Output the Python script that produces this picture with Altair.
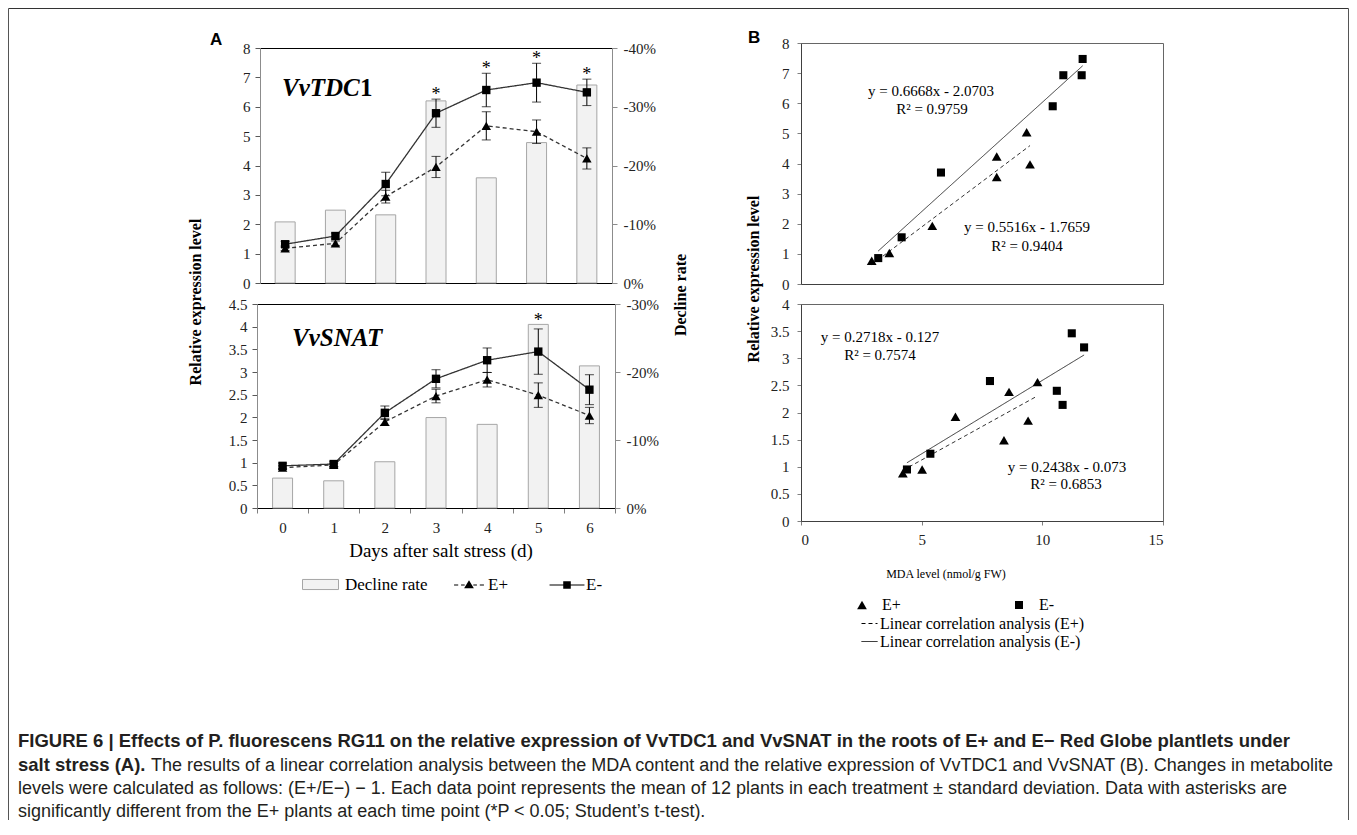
import altair as alt
import pandas as pd

# ---------------- data ----------------
days = [0, 1, 2, 3, 4, 5, 6]

# Panel A, VvTDC1
tdc_decline = [-0.104, -0.124, -0.116, -0.310, -0.179, -0.239, -0.337]
tdc_em_mean = [1.32, 1.60, 3.37, 5.78, 6.57, 6.82, 6.49]
tdc_em_sd = [0.10, 0.10, 0.40, 0.48, 0.57, 0.66, 0.45]
tdc_ep_mean = [1.18, 1.35, 2.94, 3.95, 5.35, 5.15, 4.24]
tdc_ep_sd = [0.08, 0.08, 0.22, 0.36, 0.48, 0.40, 0.36]
tdc_sig_days = [3, 4, 5, 6]

# Panel A, VvSNAT
snat_decline = [-0.044, -0.040, -0.068, -0.133, -0.123, -0.270, -0.209]
snat_em_mean = [0.93, 0.97, 2.10, 2.85, 3.26, 3.45, 2.61]
snat_em_sd = [0.06, 0.06, 0.15, 0.20, 0.27, 0.50, 0.33]
snat_ep_mean = [0.89, 0.95, 1.90, 2.47, 2.83, 2.49, 2.04]
snat_ep_sd = [0.04, 0.04, 0.08, 0.15, 0.16, 0.27, 0.18]
snat_sig_days = [5]

# Panel B (MDA level vs relative expression)
tdc_mda_ep = [2.93, 3.66, 5.44, 8.11, 8.11, 9.35, 9.49]
tdc_expr_ep = [0.77, 1.03, 1.93, 4.23, 3.55, 5.04, 3.97]
tdc_mda_em = [3.20, 4.17, 5.80, 10.43, 10.87, 11.63, 11.67]
tdc_expr_em = [0.86, 1.55, 3.70, 5.90, 6.93, 6.93, 7.47]
snat_mda_ep = [4.22, 5.02, 6.40, 8.41, 8.62, 9.41, 9.80]
snat_expr_ep = [0.88, 0.95, 1.92, 1.49, 2.38, 1.85, 2.56]
snat_mda_em = [4.39, 5.36, 7.83, 10.60, 10.84, 11.22, 11.73]
snat_expr_em = [0.95, 1.24, 2.58, 2.40, 2.14, 3.46, 3.20]

tdc_eq_em = ["y = 0.6668x - 2.0703", "R² = 0.9759"]
tdc_eq_ep = ["y = 0.5516x - 1.7659", "R² = 0.9404"]
snat_eq_em = ["y = 0.2718x - 0.127", "R² = 0.7574"]
snat_eq_ep = ["y = 0.2438x - 0.073", "R² = 0.6853"]

series_names = ["E+", "E-"]
bar_label = ["Decline rate"]
fit_names = ["Linear correlation analysis (E+)", "Linear correlation analysis (E-)"]

caption_lines = [
    "FIGURE 6 | Effects of P. fluorescens RG11 on the relative expression of VvTDC1 and VvSNAT in the roots of E+ and E\u2212 Red Globe plantlets under",
    "The results of a linear correlation analysis between the MDA content and the relative expression of VvTDC1 and VvSNAT (B). Changes in metabolite",
    "levels were calculated as follows: (E+/E\u2212) \u2212 1. Each data point represents the mean of 12 plants in each treatment \u00b1 standard deviation. Data with asterisks are",
    "significantly different from the E+ plants at each time point (*P < 0.05; Student\u2019s t-test).",
]
caption_bold_start = "salt stress (A)."

# ---------------- styling ----------------
SERIF = "Liberation Serif"
SANS = "Liberation Sans"
ONE = pd.DataFrame({"k": [0]})


def seg(a, b, t=0.03):
    return f"M{a},{-t}L{b},{-t}L{b},{t}L{a},{t}Z"


BOX_PATH = "M-1,-0.28L1,-0.28L1,0.28L-1,0.28Z"
EP_PATH = (seg(-0.83, -0.6) + seg(-0.44, -0.24) + seg(0.24, 0.44) + seg(0.6, 0.83)
           + "M0,-0.26L0.27,0.18L-0.27,0.18Z")
EM_PATH = seg(-0.97, 0.97) + "M-0.21,-0.21L0.21,-0.21L0.21,0.21L-0.21,0.21Z"


def label(text, x, y, size, font=SERIF, weight="normal", style="normal",
          align="left", baseline="alphabetic", angle=0, color="black"):
    return alt.Chart(ONE).mark_text(
        text=text, font=font, fontSize=size, fontWeight=weight, fontStyle=style,
        align=align, baseline=baseline, angle=angle, color=color
    ).encode(x=alt.value(x), y=alt.value(y))


def hrule(x1, x2, y, color="#555"):
    return alt.Chart(ONE).mark_rule(color=color, strokeWidth=1).encode(
        x=alt.value(x1), x2=alt.value(x2), y=alt.value(y))


def vrule(x, y1, y2, color="#555"):
    return alt.Chart(ONE).mark_rule(color=color, strokeWidth=1).encode(
        x=alt.value(x), y=alt.value(y1), y2=alt.value(y2))


def panel_a(decline, em_mean, em_sd, ep_mean, ep_sd, sig_days, y_max, y_step,
            r_min, w, h, inset_x, inset_top, show_x, annotations, star_dy,
            bar_legend=None, line_legend=None):
    dec_df = pd.DataFrame({"day": days, "decline": decline})
    df = pd.concat([
        pd.DataFrame({"day": days, "series": "E-", "mean": em_mean, "sd": em_sd}),
        pd.DataFrame({"day": days, "series": "E+", "mean": ep_mean, "sd": ep_sd}),
    ], ignore_index=True)

    xs = alt.Scale(type="band", domain=days, paddingInner=0, paddingOuter=0,
                   range=[inset_x, w - inset_x])
    bottom_axis = alt.Axis(
        orient="bottom", title=None, grid=False, domainColor="black",
        labels=show_x, ticks=show_x, tickBand="extent", tickSize=5,
        tickColor="#7f7f7f", labelAngle=0, labelFont=SERIF, labelFontSize=15,
        labelColor="#222", labelPadding=7)
    top_axis = alt.Axis(orient="top", title=None, grid=False, labels=False,
                        ticks=False, domainColor="black", offset=-inset_top)
    n = int(round(y_max / y_step))
    y_vals = [round(i * y_step, 2) for i in range(n + 1)]
    left_axis = alt.Axis(
        orient="left", title=None, grid=False, values=y_vals, format="~g",
        tickSize=5, tickColor="#595959", domainColor="#8c8c8c", offset=-inset_x,
        labelFont=SERIF, labelFontSize=15, labelColor="#222", labelPadding=5)
    m = int(round(-r_min / 0.1))
    r_vals = [round(-0.1 * i, 2) for i in range(m + 1)]
    right_axis = alt.Axis(
        orient="right", title=None, grid=False, values=r_vals, offset=-inset_x,
        labelExpr="(datum.value < 0 ? '-' : '') + format(abs(datum.value), '.0%')",
        tickSize=5, tickColor="#8c8c8c", domainColor="#8c8c8c",
        labelFont=SERIF, labelFontSize=15, labelColor="#222", labelPadding=6)

    bars = alt.Chart(dec_df).transform_calculate(
        lbl="'" + bar_label[0] + "'"
    ).mark_bar(size=20, stroke="#a6a6a6", strokeWidth=1).encode(
        x=alt.X("day:O", scale=xs, axis=bottom_axis),
        y=alt.Y("decline:Q",
                scale=alt.Scale(domain=[r_min, 0], reverse=True, nice=False,
                                range=[h, inset_top]),
                axis=right_axis),
        fill=alt.Fill("lbl:N", scale=alt.Scale(domain=bar_label, range=["#f2f2f2"]),
                      legend=bar_legend),
    )

    X = alt.X("day:O", scale=xs, axis=top_axis)
    ys = alt.Scale(domain=[0, y_max], nice=False, range=[h, inset_top])
    base = alt.Chart(df).transform_calculate(
        lo="datum.mean - datum.sd", hi="datum.mean + datum.sd")
    dash = alt.StrokeDash("series:N", scale=alt.Scale(domain=series_names,
                                                      range=[[4, 3], [1, 0]]),
                          legend=None)
    lines = base.mark_line(color="#333", strokeWidth=1.3).encode(
        x=X, y=alt.Y("mean:Q", scale=ys, axis=left_axis), strokeDash=dash)
    rules = base.mark_rule(color="black", strokeWidth=1).encode(
        x=X, y=alt.Y("lo:Q", scale=ys, axis=left_axis), y2="hi:Q")
    cap_lo = base.mark_tick(color="black", size=9, thickness=1).encode(
        x=X, y=alt.Y("lo:Q", scale=ys, axis=left_axis))
    cap_hi = base.mark_tick(color="black", size=9, thickness=1).encode(
        x=X, y=alt.Y("hi:Q", scale=ys, axis=left_axis))
    pts = base.mark_point(filled=True, opacity=1, color="black").encode(
        x=X, y=alt.Y("mean:Q", scale=ys, axis=left_axis),
        shape=alt.Shape("series:N", scale=alt.Scale(domain=series_names,
                                                    range=["triangle-up", "square"]),
                        legend=None),
        size=alt.Size("series:N", scale=alt.Scale(domain=series_names, range=[90, 70]),
                      legend=None),
    )
    stars = base.transform_filter(
        alt.FieldEqualPredicate(field="series", equal="E-")
    ).transform_filter(
        alt.FieldOneOfPredicate(field="day", oneOf=sig_days)
    ).mark_text(text="*", font=SERIF, fontSize=18, dy=star_dy,
                baseline="alphabetic", color="black").encode(
        x=X, y=alt.Y("hi:Q", scale=ys, axis=left_axis))

    layers = [lines, rules, cap_lo, cap_hi, pts, stars]
    if line_legend is not None:
        carrier = alt.Chart(pd.DataFrame({"s": series_names})).transform_filter(
            "false").mark_point(filled=True, opacity=1, color="black").encode(
            shape=alt.Shape("s:N", scale=alt.Scale(domain=series_names,
                                                   range=[EP_PATH, EM_PATH]),
                            legend=line_legend))
        layers.append(carrier)
    inner = alt.layer(*layers, *annotations).resolve_scale(shape="independent")
    return alt.layer(bars, inner).resolve_scale(
        y="independent", shape="independent", fill="independent",
        stroke="independent", strokeDash="independent", size="independent"
    ).resolve_axis(x="independent", y="independent").properties(width=w, height=h)


def panel_b(mda_ep, expr_ep, mda_em, expr_em, y_max, y_step, w, h, show_x,
            annotations, shape_legend, dash_legend):
    df = pd.concat([
        pd.DataFrame({"series": "E+", "mda": mda_ep, "expr": expr_ep}),
        pd.DataFrame({"series": "E-", "mda": mda_em, "expr": expr_em}),
    ], ignore_index=True)
    xs = alt.Scale(domain=[0, 15], nice=False)
    x_axis = alt.Axis(
        orient="bottom", title=None, grid=False, values=[0, 5, 10, 15],
        labels=show_x, ticks=show_x, tickSize=4, tickColor="#808080",
        domainColor="#404040", labelFont=SERIF, labelFontSize=15,
        labelColor="#222", labelPadding=7)
    n = int(round(y_max / y_step))
    y_vals = [round(i * y_step, 2) for i in range(n + 1)]
    y_axis = alt.Axis(
        orient="left", title=None, grid=False, values=y_vals, format="~g",
        tickSize=4, tickColor="#808080", domainColor="#404040",
        labelFont=SERIF, labelFontSize=15, labelColor="#222", labelPadding=8)
    X = alt.X("mda:Q", scale=xs, axis=x_axis)
    Y = alt.Y("expr:Q", scale=alt.Scale(domain=[0, y_max], nice=False), axis=y_axis)

    reg = alt.Chart(df).transform_calculate(
        fit="'Linear correlation analysis (' + datum.series + ')'"
    ).transform_regression("mda", "expr", groupby=["fit"]).mark_line(
        color="#333", strokeWidth=1
    ).encode(
        x=X, y=Y,
        strokeDash=alt.StrokeDash("fit:N", scale=alt.Scale(domain=fit_names,
                                                           range=[[4, 3], [1, 0]]),
                                  legend=dash_legend),
    )
    pts = alt.Chart(df).mark_point(filled=True, opacity=1, color="black").encode(
        x=X, y=Y,
        shape=alt.Shape("series:N", scale=alt.Scale(domain=series_names,
                                                    range=["triangle-up", "square"]),
                        legend=shape_legend),
        size=alt.Size("series:N", scale=alt.Scale(domain=series_names, range=[95, 65]),
                      legend=shape_legend),
    )
    return alt.layer(reg, pts, *annotations).properties(
        width=w, height=h, view=alt.ViewBackground(stroke="#666", strokeWidth=1))


# ---------------- panel A (top origin = page 257,43) ----------------
a_top_ann = [
    label("A", -47, 2, 17, font=SANS, weight="bold"),
    label("Relative expression level", -61, 259, 16, weight="bold",
          align="center", baseline="middle", angle=270),
    label("Decline rate", 424, 252, 16, weight="bold", align="center",
          baseline="middle", angle=270),
    label("VvTDC", 25, 53, 25, weight="bold", style="italic"),
    label("1", 103, 53, 25, weight="bold"),
]
A_top = panel_a(tdc_decline, tdc_em_mean, tdc_em_sd, tdc_ep_mean, tdc_ep_sd,
                tdc_sig_days, 8, 1, -0.4, 358, 240, 3, 5, False, a_top_ann, 1)

leg_bar = alt.Legend(orient="none", legendX=45, legendY=262, direction="horizontal",
                     title=None, symbolType=BOX_PATH, symbolSize=1296,
                     symbolStrokeColor="#a6a6a6", symbolStrokeWidth=1,
                     labelFont=SERIF, labelFontSize=17, labelColor="black",
                     labelOffset=6, labelLimit=300)
leg_lines = alt.Legend(orient="none", legendX=193, legendY=262, direction="horizontal",
                       title=None, symbolSize=1296, symbolFillColor="black",
                       labelFont=SERIF, labelFontSize=17, labelColor="black",
                       labelOffset=0, columnPadding=38, labelLimit=300)

# A_bot origin = page (257, 304)
CX = 18 - 257
a_bot_ann = [
    label("VvSNAT", 35, 42, 25, weight="bold", style="italic"),
    label("Days after salt stress (d)", 184, 253, 19, align="center"),
    # figure frame
    hrule(-248.5, 1091.5, -295.5, color="#333"),
    vrule(-248.5, -295.5, 516),
    vrule(1091.5, -295.5, 516),
    # caption
    label(caption_lines[0], CX, 443, 18.5, font=SANS, weight="bold", color="#231f20"),
    label(caption_bold_start, CX, 467, 18.5, font=SANS, weight="bold", color="#231f20"),
    label(caption_lines[1], CX + 133, 467, 18, font=SANS, color="#231f20"),
    label(caption_lines[2], CX, 490, 18, font=SANS, color="#231f20"),
    label(caption_lines[3], CX, 513, 18, font=SANS, color="#231f20"),
]
A_bot = panel_a(snat_decline, snat_em_mean, snat_em_sd, snat_ep_mean, snat_ep_sd,
                snat_sig_days, 4.5, 0.5, -0.3, 358, 204, 0, 0, True, a_bot_ann, -3,
                bar_legend=leg_bar, line_legend=leg_lines)

# ---------------- panel B (top origin = page 801,43) ----------------
b_top_ann = [
    label("B", -53, 0, 17, font=SANS, weight="bold"),
    label("Relative expression level", -47, 236, 16, weight="bold",
          align="center", baseline="middle", angle=270),
    label(tdc_eq_em[0], 130, 53, 15, align="center"),
    label(tdc_eq_em[1], 131, 71, 15, align="center"),
    label(tdc_eq_ep[0], 226, 189, 15, align="center"),
    label(tdc_eq_ep[1], 226, 208, 15, align="center"),
]
B_top = panel_b(tdc_mda_ep, tdc_expr_ep, tdc_mda_em, tdc_expr_em, 8, 1, 362, 241,
                False, b_top_ann, None, None)

b_bot_ann = [
    label(snat_eq_em[0], 79, 38, 15, align="center"),
    label(snat_eq_em[1], 79, 56, 15, align="center"),
    label(snat_eq_ep[0], 266, 168, 15, align="center"),
    label(snat_eq_ep[1], 265, 185, 15, align="center"),
    label("MDA level (nmol/g FW)", 145, 274, 12, align="center"),
]
shape_leg = alt.Legend(orient="none", legendX=53, legendY=293, direction="horizontal",
                       title=None, symbolFillColor="black",
                       labelFont=SERIF, labelFontSize=16,
                       labelColor="black", labelOffset=12, columnPadding=110)
dash_leg = alt.Legend(orient="none", legendX=60, legendY=311, direction="vertical",
                      title=None, symbolType="stroke", symbolSize=256,
                      symbolStrokeColor="black", symbolStrokeWidth=1,
                      labelFont=SERIF, labelFontSize=16, labelColor="black",
                      labelOffset=2, rowPadding=1, labelLimit=400)
B_bot = panel_b(snat_mda_ep, snat_expr_ep, snat_mda_em, snat_expr_em, 4, 0.5, 362, 217,
                True, b_bot_ann, shape_leg, dash_leg)

# ---------------- layout (2x2 grid, flush bounds) ----------------
RS = dict(x="independent", y="independent", shape="independent", fill="independent",
          stroke="independent", strokeDash="independent", size="independent")
RL = dict(shape="independent", fill="independent", stroke="independent",
          strokeDash="independent", size="independent")

chart = alt.concat(
    A_top, B_top, A_bot, B_bot, columns=2, align="each", bounds="flush",
    spacing=alt.RowColnumber(row=20, column=186)
).resolve_scale(**RS).resolve_legend(**RL).configure_view(
    stroke=None).configure_axis(labelFont=SERIF, titleFont=SERIF).configure_text(
    font=SERIF).properties(padding=0, background="white")

chart.save("out.html", embed_options={"renderer": "svg", "actions": False})
